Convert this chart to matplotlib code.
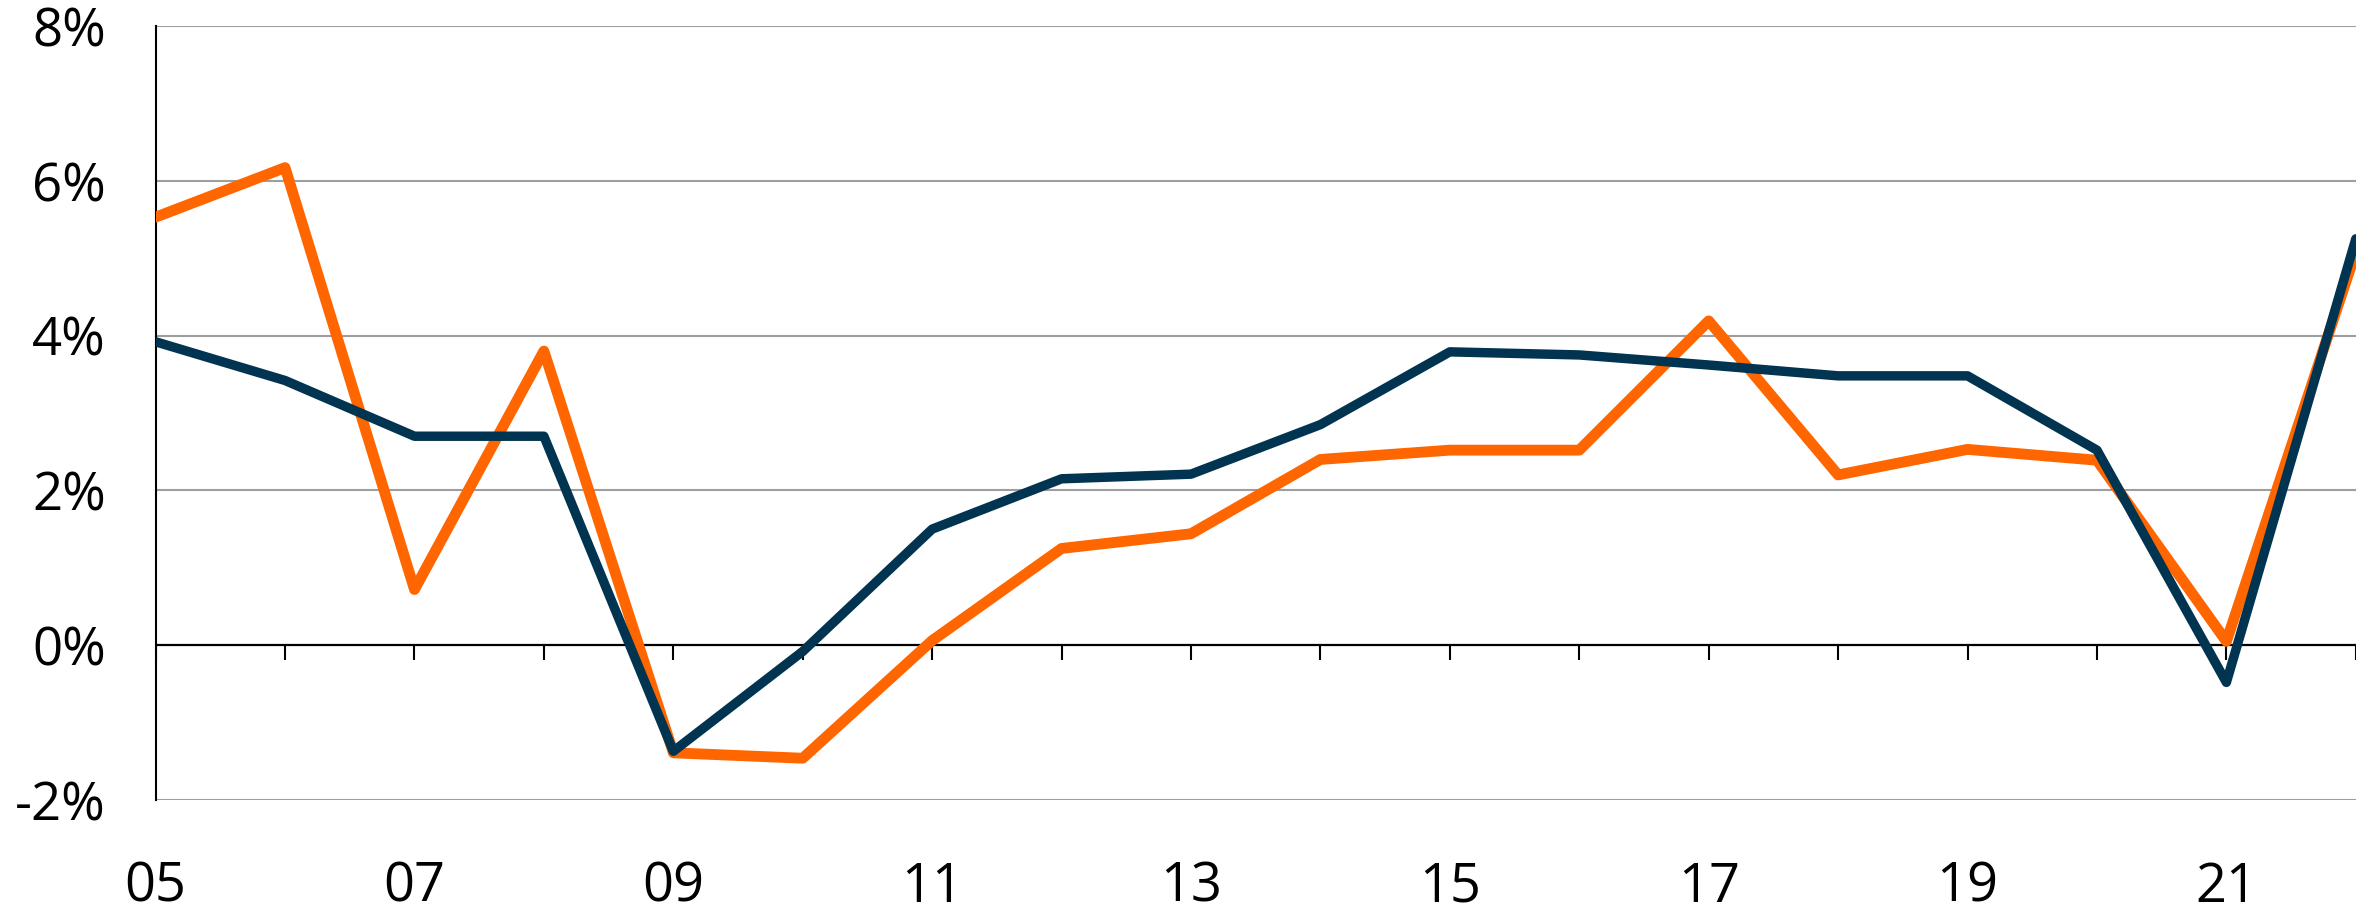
import numpy as np
import matplotlib.pyplot as plt

plt.rcParams['font.family'] = ['Open Sans', 'DejaVu Sans']

# data (percent)
years = np.arange(2005, 2023)
orange_vals = [5.53, 6.17, 0.72, 3.80, -1.39, -1.46, 0.06, 1.25, 1.44, 2.40,
               2.52, 2.52, 4.19, 2.20, 2.53, 2.39, 0.05, 5.08]
navy_vals = [3.92, 3.42, 2.70, 2.70, -1.37, -0.08, 1.50, 2.15, 2.21, 2.85,
             3.79, 3.75, 3.62, 3.48, 3.48, 2.52, -0.48, 5.25]
yticks = [-2, 0, 2, 4, 6, 8]
ytick_labels = ['-2%', '0%', '2%', '4%', '6%', '8%']
xtick_years = years[::2]
xtick_labels = [f'{y % 100:02d}' for y in xtick_years]

fig = plt.figure(figsize=(23.76, 9.11), dpi=100)
ax = fig.add_axes([0.0655, 0.1218, 0.926, 0.8497])

ax.plot(years, orange_vals, color='#ff6600', lw=7.8, solid_joinstyle='round',
        solid_capstyle='round', zorder=3)
ax.plot(years, navy_vals, color='#003450', lw=6.8, solid_joinstyle='round',
        solid_capstyle='round', zorder=4)

ax.set_xlim(years[0], years[-1])
ax.set_ylim(-2, 8)

# gridlines
for v in yticks:
    if v != 0:
        ax.axhline(v, color='#9e9e9e', lw=1.5, zorder=1)
ax.axhline(0, color='black', lw=1.6, zorder=2)
# tick marks hanging from the zero line
tick_len = 15 / 77.8
ax.vlines(years, -tick_len, 0, color='black', lw=1.5, zorder=2)

for s in ['top', 'right', 'bottom']:
    ax.spines[s].set_visible(False)
ax.spines['left'].set_color('black')
ax.spines['left'].set_linewidth(1.5)

ax.set_yticks(yticks)
ax.set_yticklabels(ytick_labels)
ax.set_xticks(xtick_years)
ax.set_xticklabels(xtick_labels)
ax.tick_params(axis='y', length=0, pad=36, labelsize=38)
ax.tick_params(axis='x', length=0, pad=43, labelsize=39)

fig.savefig('out.png', dpi=100)
